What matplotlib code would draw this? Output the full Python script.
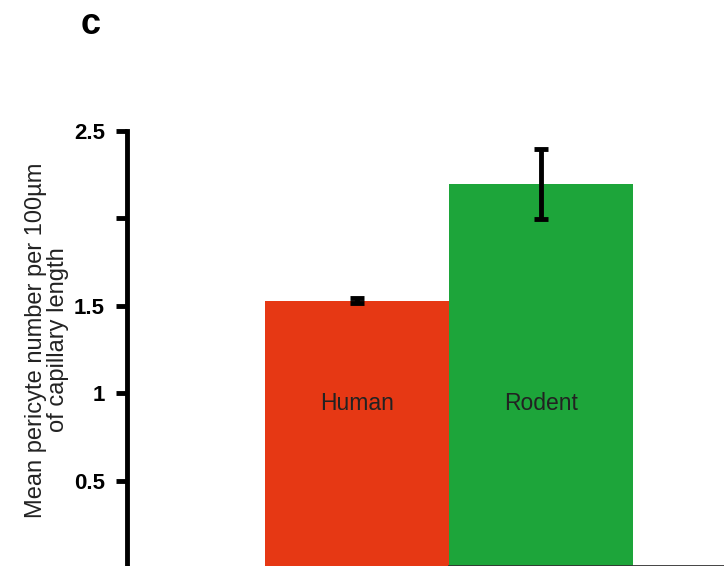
import matplotlib.pyplot as plt

species = ["Human", "Rodent"]
mean_pericytes = [1.53, 2.195]
sem = [0.015, 0.2]
bar_colors = ["#E63814", "#1DA53A"]

yticks = [0.5, 1, 1.5, 2, 2.5]
ytick_labels = ["0.5", "1", "1.5", "", "2.5"]

plt.rcParams["font.family"] = ["Liberation Sans", "DejaVu Sans"]

fig = plt.figure(figsize=(7.24, 5.66), dpi=100)
# axes runs off the right and bottom edge like the cropped original
ax = fig.add_axes([127 / 724, -0.0044, 0.953, 0.773])

x = [0, 1]
ax.bar(x, mean_pericytes, width=1.0, color=bar_colors, align="edge", zorder=1)
ax.errorbar([i + 0.5 for i in x], mean_pericytes, yerr=sem, fmt="none",
            ecolor="black", elinewidth=3.5, capsize=5, capthick=3.5, zorder=3)

for i, name in zip(x, species):
    ax.text(i + 0.5, 0.94, name, ha="center", va="center",
            fontsize=16.5, color="#222222")

ax.set_xlim(-0.75, 3.0)
ax.set_ylim(0, 2.5)
ax.set_xticks([])
ax.set_yticks(yticks)
ax.set_yticklabels(ytick_labels, fontsize=16, fontweight="bold")
ax.tick_params(axis="y", length=8, width=3.5, pad=8)

for side in ["top", "right"]:
    ax.spines[side].set_visible(False)
ax.spines["left"].set_linewidth(3.5)
# only the sliver of the bottom line from the second bar on shows in the crop
ax.spines["bottom"].set_position(("data", 0.015))
ax.spines["bottom"].set_bounds(1, 3.0)
ax.spines["bottom"].set_linewidth(2)
ax.spines["bottom"].set_color("#333333")

fig.text(47 / 724, 1 - 340 / 566,
         "Mean pericyte number per 100µm\nof capillary length",
         fontsize=17, rotation=90, ha="center", va="center",
         linespacing=1.05, color="#222222", multialignment="center")

fig.text(91 / 724, 1 - 24 / 566, "c", fontsize=26, fontweight="bold",
         ha="center", va="center")

fig.savefig("out.png", dpi=100)
